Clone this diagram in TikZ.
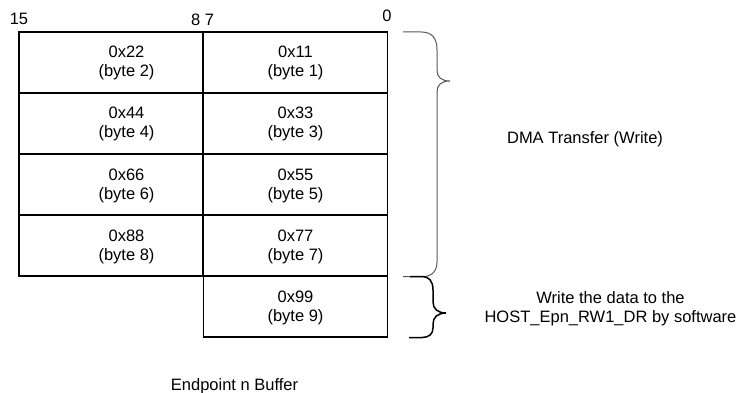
\documentclass[tikz,border=0pt]{standalone}
\usepackage{fontspec}
\setmainfont{Liberation Sans}
\begin{document}
\begin{tikzpicture}[x=1pt,y=-1pt,
  font=\fontsize{16.5}{19}\selectfont,
  cell/.style={draw=black, line width=1.4pt, minimum width=184pt, minimum height=61pt, inner sep=0pt},
  lbl/.style={anchor=base, inner sep=0pt},
  bigbrace/.style={draw=black!65, line width=1pt},
  smallbrace/.style={draw=black, line width=1.5pt}]
\useasboundingbox (0,0) rectangle (741,393);
% cells
\node[cell] (l1) at (111,62.5) {};
\node[cell] (r1) at (295.5,62.5) {};
\node[cell] (l2) at (111,123.5) {};
\node[cell] (r2) at (295.5,123.5) {};
\node[cell] (l3) at (111,184.5) {};
\node[cell] (r3) at (295.5,184.5) {};
\node[cell] (l4) at (111,245.5) {};
\node[cell] (r4) at (295.5,245.5) {};
\node[cell] (r5) at (295.5,306.5) {};
% cell texts
\newcommand{\celltext}[2]{\begin{tabular}[t]{@{}c@{}}#1\\#2\end{tabular}}
\node[lbl] (t22) at (126.5,58) {\celltext{0x22}{(byte 2)}};
\node[lbl] (t11) at (295.5,58) {\celltext{0x11}{(byte 1)}};
\node[lbl] (t44) at (126.5,119) {\celltext{0x44}{(byte 4)}};
\node[lbl] (t33) at (295.5,119) {\celltext{0x33}{(byte 3)}};
\node[lbl] (t66) at (126.5,180) {\celltext{0x66}{(byte 6)}};
\node[lbl] (t55) at (295.5,180) {\celltext{0x55}{(byte 5)}};
\node[lbl] (t88) at (126.5,241) {\celltext{0x88}{(byte 8)}};
\node[lbl] (t77) at (295.5,241) {\celltext{0x77}{(byte 7)}};
\node[lbl] (t99) at (295.5,302) {\celltext{0x99}{(byte 9)}};
% bit labels
\node[lbl] (b15) at (19,25) {15};
\node[lbl] (b87) at (202.5,25.5) {8 7};
\node[lbl] (b0) at (387,22) {0};
% braces
\draw[bigbrace] (403,32) -- (421,32) .. controls (432,32) and (437,38) .. (437,50)
  -- (437,70) .. controls (437,77) and (441,81) .. (450,81)
  .. controls (441,81) and (437,85) .. (437,92)
  -- (437,262) .. controls (437,271) and (432,276.5) .. (423,276.5) -- (403,276.5);
\draw[smallbrace] (410,276.5) -- (422,276.5) .. controls (429,276.5) and (433,281) .. (433,290)
  -- (433,302) .. controls (433,309) and (438,313) .. (446,313)
  .. controls (438,313) and (433,317) .. (433,324)
  -- (433,328) .. controls (433,334) and (429,337.5) .. (422,337.5) -- (409,337.5);
% side texts
\node[lbl] (dma) at (585,143) {DMA Transfer (Write)};
\node[lbl] (sw) at (610.5,303) {\celltext{Write the data to the}{HOST\_Epn\_RW1\_DR by software}};
\node[lbl] (title) at (234.5,390) {Endpoint n Buffer};
\end{tikzpicture}
\end{document}
